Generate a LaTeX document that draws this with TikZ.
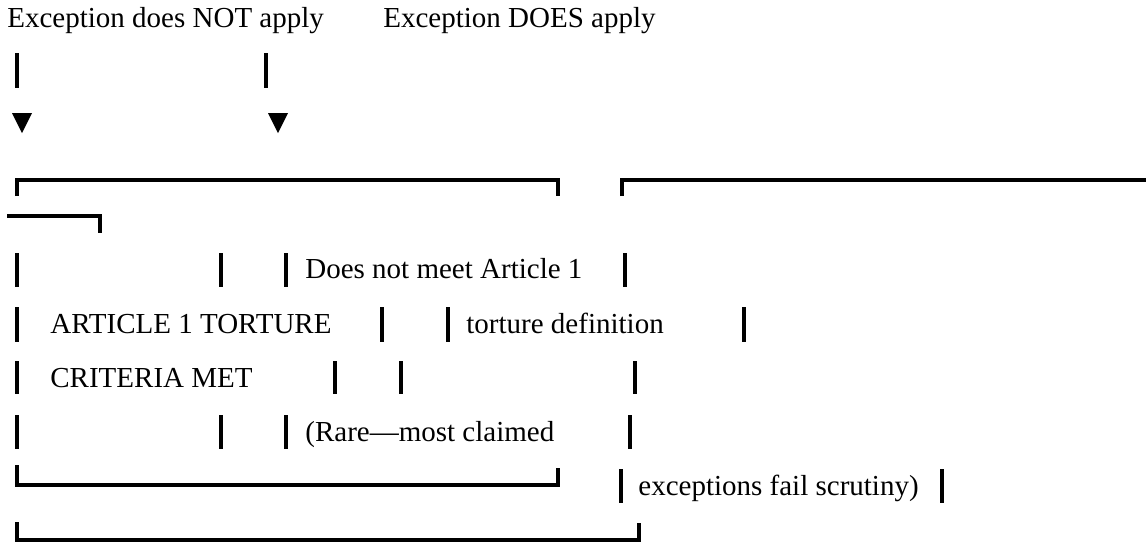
\documentclass[tikz,border=0pt]{standalone}
\usepackage{fontspec}
\setmainfont{Liberation Serif}
\begin{document}
\begin{tikzpicture}[x=0.5pt,y=-0.5pt,line cap=butt,line join=miter,
  rule/.style={line width=1.6pt},
  lbl/.style={anchor=base west,inner sep=0pt,font=\fontsize{14.5}{17}\selectfont}]
  \useasboundingbox (0,0) rectangle (1146,543);
  % headings
  \node[lbl] (notapply) at (7,27) {Exception does NOT apply};
  \node[lbl] (doesapply) at (383,27) {Exception DOES apply};
  % stems and heads
  \draw[rule] (17,53) -- (17,88);
  \draw[rule] (266,53) -- (266,88);
  \fill (12,113) -- (32,113) -- (22,133) -- cycle;
  \fill (268,113) -- (288,113) -- (278,133) -- cycle;
  % box edges
  \draw[rule] (17,196) -- (17,180) -- (558,180) -- (558,196);
  \draw[rule] (622,196) -- (622,180) -- (1146,180);
  \draw[rule] (7,216) -- (100,216) -- (100,233);
  \draw[rule] (17,465) -- (17,485) -- (558,485) -- (558,468);
  \draw[rule] (17,522) -- (17,540) -- (639,540) -- (639,523);
  % side bars, row by row
  \foreach \x in {17,221,286,625} \draw[rule] (\x,253) -- (\x,287);
  \foreach \x in {17,382,448,744} \draw[rule] (\x,307) -- (\x,342);
  \foreach \x in {17,335,401,635} \draw[rule] (\x,361) -- (\x,394);
  \foreach \x in {17,221,286,630} \draw[rule] (\x,415) -- (\x,449);
  \foreach \x in {621,942} \draw[rule] (\x,469) -- (\x,503);
  % texts
  \node[lbl] (notmeet) at (305,278) {Does not meet Article 1};
  \node[lbl] (article) at (50,333) {ARTICLE 1 TORTURE};
  \node[lbl] (definition) at (466,333) {torture definition};
  \node[lbl] (criteria) at (50,387) {CRITERIA MET};
  \node[lbl] (rare) at (305,441) {(Rare—most claimed};
  \node[lbl] (scrutiny) at (638,495) {exceptions fail scrutiny)};
\end{tikzpicture}
\end{document}
